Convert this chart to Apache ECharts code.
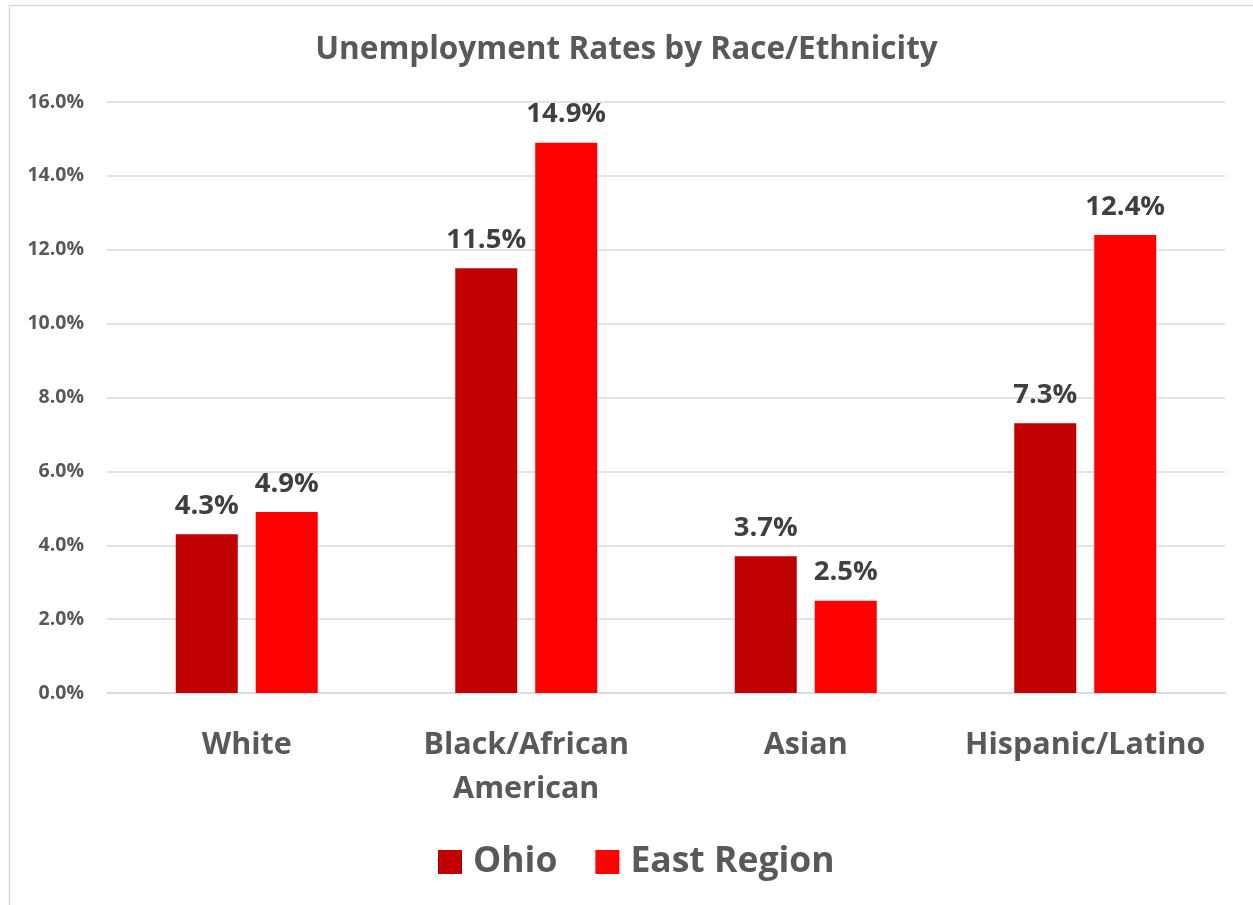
<!DOCTYPE html>
<html><head><meta charset="utf-8">
<script src="https://cdn.jsdelivr.net/npm/echarts@6/dist/echarts.min.js"></script>
<style>html,body{margin:0;padding:0;background:#fff}#c{width:1253px;height:905px}</style>
</head><body><div id="c"></div>
<script>
const categories = ['White', 'Black/African\nAmerican', 'Asian', 'Hispanic/Latino'];
const ohio = [4.3, 11.5, 3.7, 7.3];
const eastRegion = [4.9, 14.9, 2.5, 12.4];
const seriesNames = ['Ohio', 'East Region'];
const yTicks = { min: 0, max: 16, interval: 2 };

const FONT = '"Open Sans", "Noto Sans", sans-serif';
const chart = echarts.init(document.getElementById('c'), null, { renderer: 'canvas' });
const labelStyle = {
  show: true, position: 'top', distance: 14,
  formatter: p => p.value.toFixed(1) + '%',
  fontFamily: FONT, fontWeight: 'bold', fontSize: 27.5, color: '#404040'
};
chart.setOption({
  animation: false,
  backgroundColor: '#fff',
  graphic: [{
    type: 'rect', left: 7, top: 3, silent: true,
    shape: { x: 0, y: 0, width: 1400, height: 1100 },
    style: { fill: 'none', stroke: '#D9D9D9', lineWidth: 1.5 }
  }],
  title: {
    text: 'Unemployment Rates by Race/Ethnicity',
    left: 'center', top: 29,
    textStyle: { fontFamily: FONT, fontWeight: 'bold', fontSize: 31.5, color: '#595959' }
  },
  legend: {
    bottom: 20, left: 433,
    itemWidth: 24, itemHeight: 24, itemGap: 38,
    icon: 'rect',
    textStyle: { fontFamily: FONT, fontWeight: 'bold', fontSize: 35.5, color: '#595959', padding: [0, 0, 0, 6] },
    data: seriesNames
  },
  grid: { left: 107, right: 28, top: 102, bottom: 212, containLabel: false },
  xAxis: {
    type: 'category', data: categories,
    axisLine: { show: true, lineStyle: { color: '#D9D9D9', width: 1.5 } },
    axisTick: { show: false },
    axisLabel: { margin: 30, fontFamily: FONT, fontWeight: 'bold', fontSize: 30.5, color: '#595959', lineHeight: 44, interval: 0 }
  },
  yAxis: {
    type: 'value', min: yTicks.min, max: yTicks.max, interval: yTicks.interval,
    axisLine: { show: false }, axisTick: { show: false },
    splitLine: { lineStyle: { color: '#D9D9D9', width: 1.5 } },
    axisLabel: { margin: 23, formatter: v => v.toFixed(1) + '%', fontFamily: FONT, fontWeight: 'bold', fontSize: 19.5, color: '#595959' }
  },
  series: [
    { name: seriesNames[0], type: 'bar', data: ohio, barWidth: 62, barGap: '29%', itemStyle: { color: '#C00000' }, label: labelStyle },
    { name: seriesNames[1], type: 'bar', data: eastRegion, barWidth: 62, barGap: '29%', itemStyle: { color: '#FF0000' }, label: labelStyle }
  ]
});
</script></body></html>
